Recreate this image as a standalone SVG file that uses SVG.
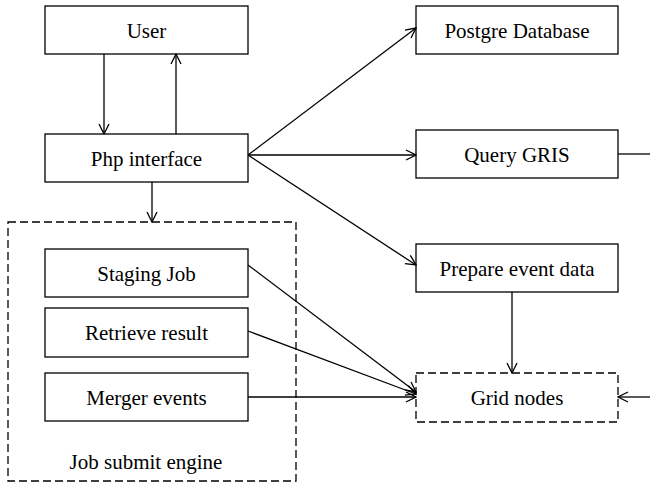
<svg xmlns="http://www.w3.org/2000/svg" width="650" height="482" viewBox="0 0 650 482">
<style>
.box{fill:#fff;stroke:#000;stroke-width:1.3}
.dash{fill:none;stroke:#000;stroke-width:1.3;stroke-dasharray:8 4}
.c{fill:none;stroke:#000;stroke-width:1.3}
text{font-family:"Liberation Serif","Times New Roman",serif;font-size:21px;fill:#000;text-anchor:middle}
</style>
<defs>
<marker id="a" viewBox="0 0 12 12" refX="11" refY="6" markerWidth="12" markerHeight="12" markerUnits="userSpaceOnUse" orient="auto">
<path d="M1,1 L11,6 L1,11" fill="none" stroke="#000" stroke-width="1.3"/>
</marker>
</defs>
<g id="job-submit-engine">
<rect class="dash" x="8" y="222" width="288" height="259"/>
<text x="146" y="469">Job submit engine</text>
</g>
<g id="user"><rect class="box" x="45" y="6" width="203" height="48"/><text x="146.5" y="38">User</text></g>
<g id="php"><rect class="box" x="45" y="134" width="203" height="48"/><text x="146.5" y="166">Php interface</text></g>
<g id="staging"><rect class="box" x="45" y="249" width="203" height="48"/><text x="146.5" y="281">Staging Job</text></g>
<g id="retrieve"><rect class="box" x="45" y="308" width="203" height="49"/><text x="146.5" y="340">Retrieve result</text></g>
<g id="merger"><rect class="box" x="45" y="373" width="203" height="48"/><text x="146.5" y="405">Merger events</text></g>
<g id="postgre"><rect class="box" x="416" y="6" width="202" height="48"/><text x="517" y="38">Postgre Database</text></g>
<g id="gris"><rect class="box" x="416" y="130" width="202" height="48"/><text x="517" y="162">Query GRIS</text></g>
<g id="prepare"><rect class="box" x="416" y="244" width="202" height="48"/><text x="517" y="276">Prepare event data</text></g>
<g id="grid"><rect class="dash" x="416" y="373" width="202" height="49"/><text x="517" y="405">Grid nodes</text></g>
<g id="connectors">
<line class="c" x1="104" y1="54" x2="104" y2="134" marker-end="url(#a)"/>
<line class="c" x1="176" y1="134" x2="176" y2="54" marker-end="url(#a)"/>
<line class="c" x1="152" y1="182" x2="152" y2="222" marker-end="url(#a)"/>
<line class="c" x1="248" y1="155" x2="416" y2="28" marker-end="url(#a)"/>
<line class="c" x1="248" y1="155" x2="416" y2="155" marker-end="url(#a)"/>
<line class="c" x1="248" y1="155" x2="416" y2="265" marker-end="url(#a)"/>
<line class="c" x1="618" y1="154" x2="650" y2="154"/>
<line class="c" x1="512" y1="292" x2="512" y2="373" marker-end="url(#a)"/>
<line class="c" x1="650" y1="397" x2="618" y2="397" marker-end="url(#a)"/>
<line class="c" x1="248" y1="265" x2="416" y2="392" marker-end="url(#a)"/>
<line class="c" x1="248" y1="331" x2="416" y2="394" marker-end="url(#a)"/>
<line class="c" x1="248" y1="397" x2="416" y2="397" marker-end="url(#a)"/>
</g>
</svg>
